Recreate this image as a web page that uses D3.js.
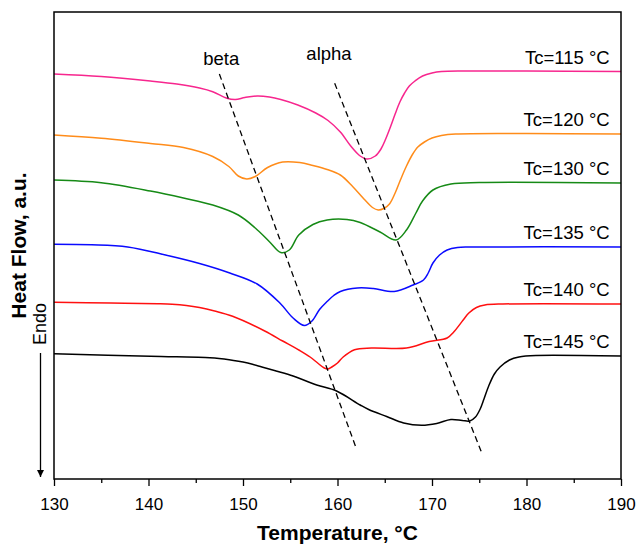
<!DOCTYPE html>
<html lang="en">

<head>
    <meta charset="UTF-8">
    <title>DSC melting curves</title>
    <script src="https://cdn.jsdelivr.net/npm/d3@7"></script>
    <style>
        body {
            margin: 0;
            background: #fff;
        }

        svg text {
            font-family: Arial, "Liberation Sans", sans-serif;
        }

        .axis text {
            font-size: 17px;
            fill: #000;
        }

        .axis line {
            stroke: #000;
            stroke-width: 1.3;
        }
    </style>
</head>

<body>
<script>
    const width = 636
    const height = 546
    const margin = { top: 12, right: 15, bottom: 67, left: 54 }

    // data: [temperature °C, heat flow a.u.]
    const tc115 = [[130, 40.5], [135, 40.25], [140.2, 39.8], [143, 39.5], [145.4, 39.1], [146.8, 38.73], [148.3, 38.07],
        [149.2, 37.95], [150.2, 38.15], [151.5, 38.3], [152.8, 38.2], [154, 37.95], [155.8, 37.4], [157.7, 36.6],
        [159, 35.85], [160.3, 34.7], [161.4, 33.3], [162.4, 32.3], [163.1, 32.0], [164, 32.3], [164.6, 33.0],
        [165.1, 34.0], [165.6, 35.2], [166.1, 36.5], [166.6, 37.7], [167.1, 38.6], [167.6, 39.3], [168.2, 39.8],
        [169, 40.3], [170, 40.6], [171, 40.75], [173.5, 40.8], [180, 40.8], [190, 40.75]]
    const tc120 = [[130, 34.4], [135, 34.07], [140.2, 33.55], [143.7, 33.15], [146.8, 32.25], [148.5, 31.25], [149.5, 30.3],
        [150.4, 30.0], [151.3, 30.25], [152.6, 31.15], [154.2, 31.7], [156, 31.65], [157.4, 31.35], [158.9, 30.95],
        [160.3, 30.4], [161.6, 29.25], [162.8, 28.0], [163.7, 27.15], [164.3, 26.9], [164.9, 27.05], [165.5, 27.5],
        [166.1, 28.6], [166.7, 30.0], [167.3, 31.3], [167.9, 32.4], [168.5, 33.2], [169.2, 33.7], [170, 34.1],
        [171, 34.35], [172.5, 34.5], [180, 34.55], [190, 34.5]]
    const tc130 = [[130, 29.9], [135, 29.63], [140.2, 28.8], [143.7, 28.1], [146.8, 27.4], [149.5, 26.4], [151.3, 25.1],
        [152.8, 23.73], [154, 22.65], [154.9, 22.9], [155.9, 24.4], [157.4, 25.45], [158.9, 25.9], [161, 25.95],
        [162.4, 25.65], [164.5, 24.7], [166.2, 23.9], [167.3, 24.9], [168.3, 26.6], [169, 27.8], [170.1, 28.9],
        [172, 29.5], [175, 29.65], [190, 29.6]]
    const tc135 = [[130, 23.47], [134, 23.42], [137.8, 23.2], [141.8, 22.4], [145.4, 21.55], [148.6, 20.6], [151.5, 19.5],
        [153.9, 17.6], [155.3, 16.1], [156.5, 15.35], [157.3, 15.8], [158.1, 16.95], [158.9, 17.75], [159.6, 18.35],
        [160.3, 18.75], [162.1, 19.1], [163.8, 19.05], [166, 18.75], [168, 19.4], [169.1, 19.9], [169.6, 20.6],
        [170.1, 21.6], [170.8, 22.4], [171.6, 22.9], [172.7, 23.15], [174, 23.2], [190, 23.2]]
    const tc140 = [[130, 17.67], [136, 17.6], [141, 17.52], [142.5, 17.47], [144, 17.35], [145.4, 17.15], [147, 16.8],
        [148.9, 16.27], [152.3, 14.8], [154.2, 13.8], [156, 12.85], [157.1, 12.2], [157.9, 11.6], [158.6, 11.1],
        [159, 11.0], [159.4, 11.2], [160, 11.6], [160.6, 12.2], [161.8, 12.93], [163.6, 13.1], [167.3, 13.1],
        [169.7, 13.75], [171.6, 14.1], [172.3, 14.7], [173.3, 15.9], [173.9, 16.6], [174.7, 17.15], [175.6, 17.4],
        [177.5, 17.5], [190, 17.5]]
    const tc145 = [[130, 12.53], [140.2, 12.27], [146, 12.15], [147, 12.09], [148, 11.99], [149, 11.86], [150, 11.69],
        [151, 11.47], [152, 11.2], [153.5, 10.8], [155.3, 10.3], [157.8, 9.4], [159.9, 8.8], [162.4, 7.4], [163.3, 6.95],
        [165.2, 6.25], [167, 5.6], [168.9, 5.37], [170.5, 5.55], [172, 5.95], [173.2, 5.85], [174, 5.8], [174.6, 6.2],
        [175.1, 7.0], [175.5, 8.0], [176, 9.3], [176.6, 10.5], [177.2, 11.2], [178.2, 11.9], [179.2, 12.2],
        [181, 12.35], [190, 12.3]]

    const series = [tc115, tc120, tc130, tc135, tc140, tc145]
    const seriesNames = ['Tc=115 °C', 'Tc=120 °C', 'Tc=130 °C', 'Tc=135 °C', 'Tc=140 °C', 'Tc=145 °C']
    const colors = ['#f7268e', '#ff8c1a', '#168a16', '#0a0aff', '#ff1010', '#000000']

    // guide lines through the beta and alpha peaks
    const betaLine = [[147.5, 40.5], [162.0, 3.03]]
    const alphaLine = [[159.7, 39.57], [175.2, 2.77]]

    const majorTicks = [130, 140, 150, 160, 170, 180, 190]
    const minorTicks = [135, 145, 155, 165, 175, 185]

    const svg = d3.select('body').append('svg').attr('width', width).attr('height', height)

    const x = d3.scaleLinear()
        .domain([130, 190])
        .range([margin.left, width - margin.right])
    const y = d3.scaleLinear()
        .domain([0, 46.7])
        .range([height - margin.bottom, margin.top])

    const line = d3.line()
        .x(d => x(d[0]))
        .y(d => y(d[1]))
        .curve(d3.curveCatmullRom.alpha(0.5))

    svg.append('clipPath').attr('id', 'plot')
        .append('rect')
        .attr('x', margin.left).attr('y', margin.top)
        .attr('width', width - margin.left - margin.right)
        .attr('height', height - margin.top - margin.bottom)

    const plot = svg.append('g').attr('clip-path', 'url(#plot)')

    plot.selectAll('path.curve')
        .data(series)
        .enter()
        .append('path')
        .attr('class', 'curve')
        .attr('d', line)
        .attr('fill', 'none')
        .attr('stroke', (d, i) => colors[i])
        .attr('stroke-width', 1.5)

    plot.selectAll('path.guide')
        .data([betaLine, alphaLine])
        .enter()
        .append('path')
        .attr('class', 'guide')
        .attr('d', d3.line().x(d => x(d[0])).y(d => y(d[1])))
        .attr('fill', 'none')
        .attr('stroke', '#000')
        .attr('stroke-width', 1.3)
        .attr('stroke-dasharray', '6,4')

    // curve labels
    svg.selectAll('text.tc')
        .data(series)
        .enter()
        .append('text')
        .attr('class', 'tc')
        .attr('x', x(188.8))
        .attr('y', d => y(d[d.length - 1][1]) - 8)
        .attr('text-anchor', 'end')
        .attr('font-size', 18.5)
        .text((d, i) => seriesNames[i])

    svg.append('text')
        .attr('x', x(147.7)).attr('y', y(41.4))
        .attr('text-anchor', 'middle')
        .attr('font-size', 18.5)
        .text('beta')
    svg.append('text')
        .attr('x', x(159.1)).attr('y', y(41.9))
        .attr('text-anchor', 'middle')
        .attr('font-size', 18.5)
        .text('alpha')

    // axes
    const xAxis = d3.axisBottom(x)
        .tickValues(majorTicks)
        .tickSize(7)
        .tickSizeOuter(0)
        .tickPadding(12)
    const xMinor = d3.axisBottom(x)
        .tickValues(minorTicks)
        .tickSize(4)
        .tickSizeOuter(0)
        .tickFormat('')

    svg.append('g')
        .attr('class', 'axis')
        .attr('transform', 'translate(0,' + (height - margin.bottom) + ')')
        .call(xAxis)
        .call(g => g.select('.domain').remove())
    svg.append('g')
        .attr('class', 'axis')
        .attr('transform', 'translate(0,' + (height - margin.bottom) + ')')
        .call(xMinor)
        .call(g => g.select('.domain').remove())

    svg.append('rect')
        .attr('x', margin.left).attr('y', margin.top)
        .attr('width', width - margin.left - margin.right)
        .attr('height', height - margin.top - margin.bottom)
        .attr('fill', 'none')
        .attr('stroke', '#000')
        .attr('stroke-width', 1.5)

    svg.append('text')
        .attr('x', (margin.left + width - margin.right) / 2)
        .attr('y', 540)
        .attr('text-anchor', 'middle')
        .attr('font-size', 21)
        .attr('font-weight', 'bold')
        .text('Temperature, °C')

    svg.append('text')
        .attr('transform', 'translate(26,' + (margin.top + height - margin.bottom) / 2 + ') rotate(-90)')
        .attr('text-anchor', 'middle')
        .attr('font-size', 21)
        .attr('font-weight', 'bold')
        .text('Heat Flow, a.u.')

    svg.append('text')
        .attr('transform', 'translate(46,324) rotate(-90)')
        .attr('text-anchor', 'middle')
        .attr('font-size', 18)
        .text('Endo')

    // endotherm arrow
    svg.append('defs').append('marker')
        .attr('id', 'arrow')
        .attr('viewBox', '0 0 10 10')
        .attr('refX', 10).attr('refY', 5)
        .attr('markerWidth', 7).attr('markerHeight', 12)
        .attr('markerUnits', 'userSpaceOnUse')
        .attr('orient', 'auto')
        .append('path')
        .attr('d', 'M0,0L10,5L0,10Z')
        .attr('fill', '#000')

    svg.append('line')
        .attr('x1', 40.5).attr('x2', 40.5)
        .attr('y1', 353).attr('y2', 477)
        .attr('stroke', '#000')
        .attr('stroke-width', 1.3)
        .attr('marker-end', 'url(#arrow)')
</script>
</body>

</html>
